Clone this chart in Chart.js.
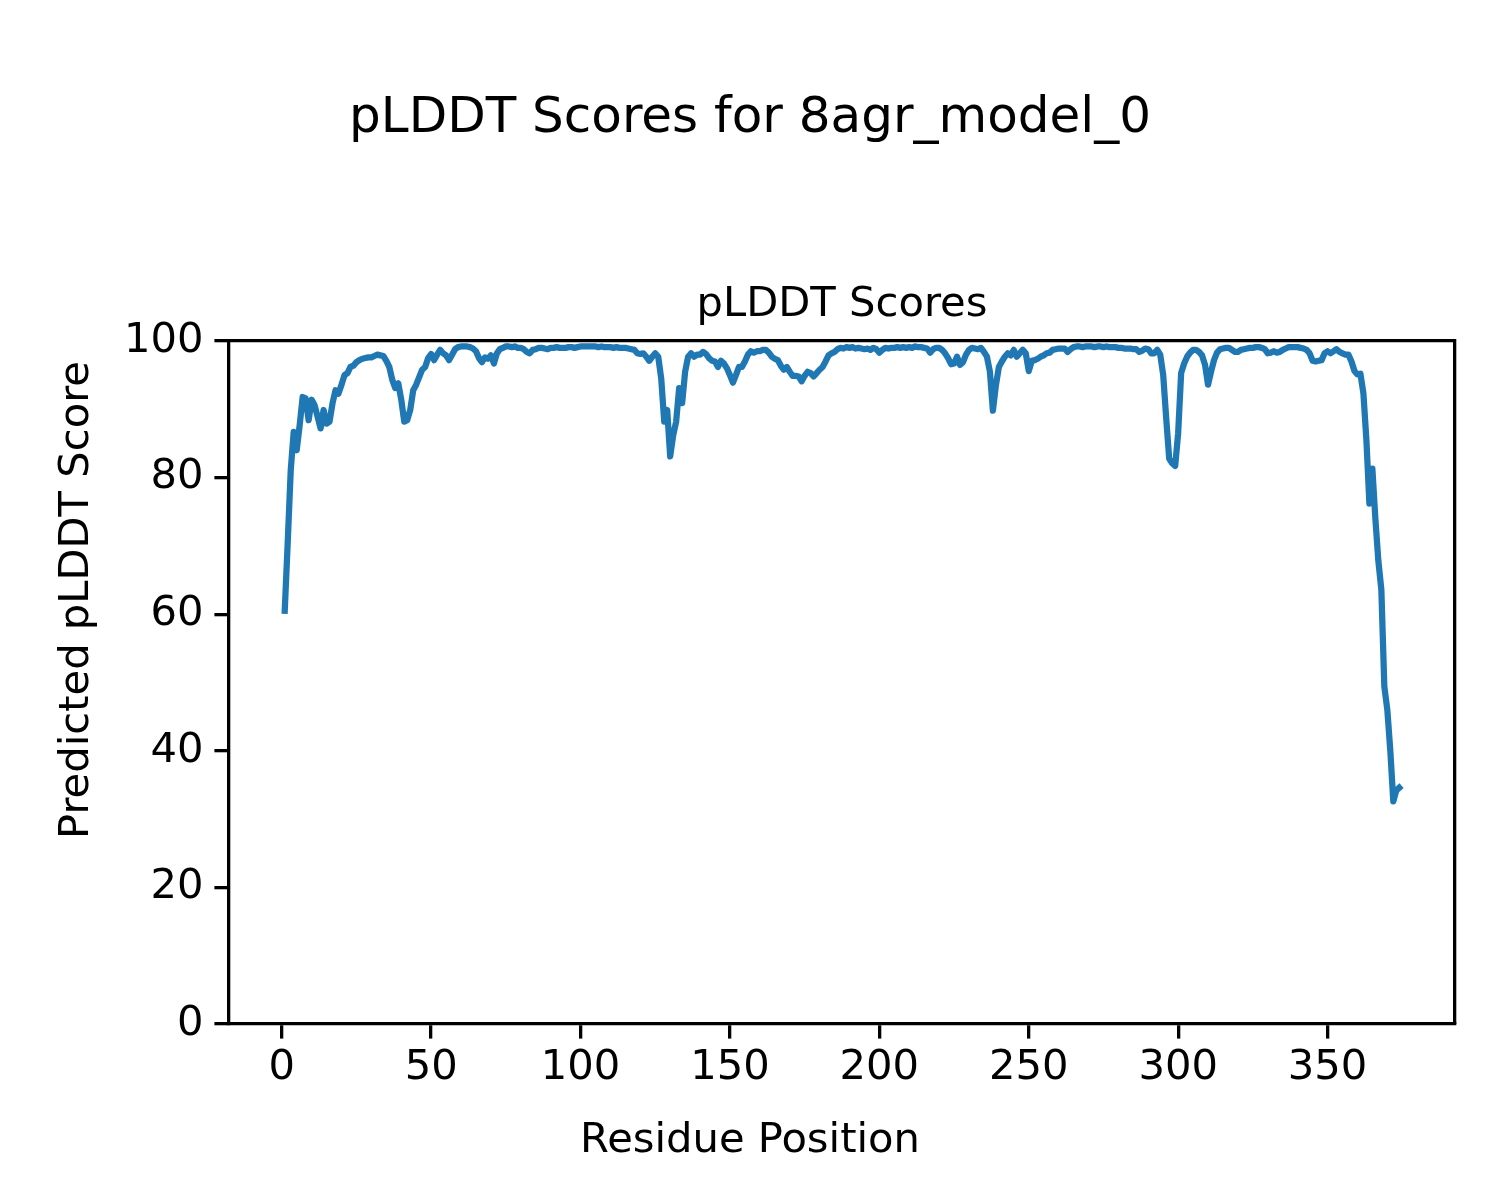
<!DOCTYPE html>
<html>
<head>
<meta charset="utf-8">
<script src="https://cdn.jsdelivr.net/npm/chart.js@4"></script>
<style>
html, body { margin: 0; padding: 0; background: #ffffff; }
canvas { display: block; }
</style>
</head>
<body>
<canvas id="c" width="1500" height="1200"></canvas>
<script>
const figureTitle = 'pLDDT Scores for 8agr_model_0';
const axesTitle = 'pLDDT Scores';
const xLabel = 'Residue Position';
const yLabel = 'Predicted pLDDT Score';

const plddtScores = [
  60.5, 70.5, 81.0, 86.7, 84.0, 87.7, 91.8, 91.6, 88.4, 91.4,
  90.6, 88.9, 87.2, 89.9, 87.9, 88.2, 90.9, 92.8, 92.3, 93.6,
  95.0, 95.3, 96.2, 96.4, 96.9, 97.2, 97.4, 97.5, 97.6, 97.6,
  97.8, 98.0, 97.9, 97.8, 97.1, 96.2, 94.3, 93.1, 93.8, 91.4,
  88.2, 88.4, 89.9, 92.8, 93.6, 94.7, 95.8, 96.2, 97.5, 98.1,
  97.2, 98.0, 98.7, 98.2, 97.9, 97.2, 98.0, 98.8, 99.1, 99.2,
  99.2, 99.2, 99.1, 98.9, 98.5, 97.5, 96.9, 97.6, 97.4, 97.9,
  96.7, 98.2, 98.8, 99.0, 99.2, 99.2, 99.1, 99.2, 99.0, 99.0,
  98.8, 98.4, 98.2, 98.7, 98.8, 99.0, 99.0, 98.9, 98.8, 99.0,
  99.0, 99.1, 99.0, 99.0, 99.0, 99.1, 99.1, 99.0, 99.1, 99.2,
  99.2, 99.2, 99.2, 99.2, 99.2, 99.1, 99.2, 99.1, 99.1, 99.1,
  99.0, 99.1, 99.0, 99.0, 99.0, 98.9, 98.8, 98.7, 98.2, 98.1,
  98.2, 97.7, 97.1, 97.7, 98.2, 97.7, 94.5, 88.2, 89.9, 83.1,
  86.2, 88.2, 93.1, 90.9, 95.5, 97.7, 98.2, 97.7, 98.0, 98.0,
  98.4, 98.1, 97.5, 97.1, 97.0, 96.2, 97.1, 96.7, 96.0, 95.0,
  93.9, 95.0, 96.2, 96.2, 97.0, 98.0, 98.5, 98.3, 98.5, 98.5,
  98.7, 98.7, 98.3, 97.7, 97.4, 97.2, 96.4, 95.8, 96.2, 95.5,
  94.9, 94.9, 94.8, 94.1, 94.9, 95.5, 95.3, 94.8, 95.3, 95.8,
  96.2, 97.0, 97.9, 98.2, 98.4, 98.8, 99.0, 98.9, 99.1, 99.0,
  99.1, 98.9, 99.0, 98.9, 98.8, 98.9, 98.7, 99.0, 98.8, 98.3,
  98.7, 99.0, 98.9, 99.0, 99.0, 99.1, 99.0, 99.1, 99.0, 99.1,
  99.0, 99.2, 99.1, 99.1, 99.0, 98.9, 98.3, 98.8, 99.0, 99.0,
  98.7, 98.2, 97.5, 96.6, 96.7, 97.7, 96.5, 96.9, 98.0, 98.7,
  99.0, 98.9, 98.8, 99.0, 98.4, 97.7, 95.5, 89.8, 93.5, 96.2,
  97.0, 97.7, 98.2, 97.9, 98.7, 97.7, 98.2, 98.7, 98.2, 95.6,
  97.1, 97.2, 97.4, 97.7, 97.9, 98.2, 98.3, 98.7, 98.8, 98.9,
  98.9, 98.9, 98.4, 98.8, 99.1, 99.2, 99.2, 99.1, 99.2, 99.2,
  99.2, 99.1, 99.2, 99.2, 99.1, 99.2, 99.1, 99.1, 99.1, 99.0,
  99.0, 98.9, 98.9, 98.9, 98.8, 98.8, 98.4, 98.6, 98.9, 98.8,
  98.2, 98.2, 98.7, 98.0, 95.0, 88.7, 82.8, 82.1, 81.7, 86.5,
  95.3, 96.7, 97.7, 98.3, 98.7, 98.7, 98.4, 97.9, 96.5, 93.6,
  95.5, 97.2, 98.3, 98.8, 98.9, 99.0, 99.0, 98.7, 98.4, 98.4,
  98.7, 98.8, 98.9, 99.0, 99.0, 99.1, 99.1, 99.0, 98.8, 98.2,
  98.3, 98.5, 98.3, 98.4, 98.7, 98.9, 99.1, 99.1, 99.1, 99.1,
  99.0, 98.9, 98.7, 98.2, 97.1, 97.0, 97.1, 97.2, 98.2, 98.5,
  98.2, 98.5, 98.8, 98.4, 98.2, 98.0, 98.0, 97.0, 95.6, 95.1,
  95.2, 92.3, 85.5, 76.2, 81.3, 74.0, 67.8, 63.6, 49.4, 46.0,
  40.0, 32.6, 34.2, 34.6
];
const residuePositions = plddtScores.map((_, i) => i + 1);
const xTickValues = [0, 50, 100, 150, 200, 250, 300, 350];
const yTickValues = [0, 20, 40, 60, 80, 100];

const FONT = 'DejaVu Sans';
const FS = 41.67;
const FS_BIG = 50;
const BLACK = '#000000';
const LINE_COLOR = '#1f77b4';

// Extra full-size layout box (like the title plugin) used for the figure-level y label
const ylabelPlugin = {
  id: 'ylabel',
  start(chart, _args, options) {
    const TitleEl = Chart.Title && Chart.Title._element;
    if (!TitleEl) { chart.$ylabelFallback = true; return; }
    const box = new TitleEl({ctx: chart.ctx, options, chart});
    Chart.layouts.configure(chart, box, options);
    Chart.layouts.addBox(chart, box);
    chart.$ylabelBox = box;
  },
  stop(chart) {
    if (chart.$ylabelBox) { Chart.layouts.removeBox(chart, chart.$ylabelBox); delete chart.$ylabelBox; }
  },
  beforeUpdate(chart, _args, options) {
    const box = chart.$ylabelBox;
    if (!box) return;
    Chart.layouts.configure(chart, box, options);
    box.options = options;
  },
  afterDraw(chart, _args, options) {
    if (!chart.$ylabelFallback) return;
    const ctx = chart.ctx;
    ctx.save();
    ctx.translate(77.5, chart.height / 2);
    ctx.rotate(-Math.PI / 2);
    ctx.font = FS + 'px "' + FONT + '"';
    ctx.fillStyle = BLACK;
    ctx.textAlign = 'center';
    ctx.textBaseline = 'middle';
    ctx.fillText(options.text, 0, 0);
    ctx.restore();
  },
  defaults: {
    align: 'center', display: true, font: {weight: 'normal'}, fullSize: true,
    padding: 0, position: 'left', text: '', weight: 1000, color: '#000000'
  }
};

const axisGrid = {
  display: true, drawOnChartArea: false, drawTicks: true,
  tickLength: 14.6, lineWidth: 3.3, tickWidth: 3.3, color: BLACK, tickColor: BLACK
};
const axisBorder = {display: true, color: BLACK, width: 3.3};

new Chart(document.getElementById('c'), {
  type: 'line',
  data: {
    datasets: [{
      label: 'pLDDT',
      data: residuePositions.map((x, i) => ({x: x, y: plddtScores[i]})),
      borderColor: LINE_COLOR,
      backgroundColor: LINE_COLOR,
      borderWidth: 6.25,
      pointRadius: 0,
      pointHoverRadius: 0,
      tension: 0,
      fill: false,
      borderCapStyle: 'square',
      borderJoinStyle: 'round',
      xAxisID: 'x',
      yAxisID: 'y'
    }]
  },
  options: {
    responsive: false,
    animation: false,
    devicePixelRatio: 1,
    events: [],
    layout: {padding: {top: 0, left: 0, right: 0, bottom: 0}},
    font: {family: FONT},
    color: BLACK,
    plugins: {
      legend: {display: false},
      tooltip: {enabled: false},
      title: {
        display: true, text: figureTitle, color: BLACK,
        font: {family: FONT, size: FS_BIG, weight: 'normal'},
        padding: {top: 89, bottom: 0}
      },
      subtitle: {
        display: true, position: 'bottom', text: xLabel, color: BLACK,
        font: {family: FONT, size: FS, weight: 'normal'},
        padding: {top: 0, bottom: 34}
      },
      ylabel: {
        display: true, position: 'left', text: yLabel, color: BLACK,
        font: {family: FONT, size: FS, weight: 'normal'},
        padding: {top: 52.5, bottom: 0}, fullSize: true, weight: 1000
      }
    },
    scales: {
      x: {
        type: 'linear', position: 'bottom', min: -17.65, max: 392.65,
        afterBuildTicks: (s) => { s.ticks = xTickValues.map(v => ({value: v})); },
        afterFit: (s) => { s.height = 92; },
        ticks: {font: {family: FONT, size: FS}, color: BLACK, padding: 5, maxRotation: 0, autoSkip: false},
        grid: axisGrid,
        border: axisBorder
      },
      y: {
        type: 'linear', position: 'left', min: 0, max: 100,
        afterBuildTicks: (s) => { s.ticks = yTickValues.map(v => ({value: v})); },
        afterFit: (s) => { s.width = 126.5; },
        ticks: {font: {family: FONT, size: FS}, color: BLACK, padding: 11, autoSkip: false},
        grid: axisGrid,
        border: axisBorder
      },
      x2: {
        type: 'linear', position: 'top', min: 0, max: 1, display: true,
        afterFit: (s) => { s.height = 192; },
        ticks: {display: false},
        grid: {display: false},
        border: axisBorder,
        title: {
          display: true, text: axesTitle, color: BLACK,
          font: {family: FONT, size: FS, weight: 'normal'},
          padding: {top: 131, bottom: 0}
        }
      },
      y2: {
        type: 'linear', position: 'right', min: 0, max: 1, display: true,
        afterFit: (s) => { s.width = 45; },
        ticks: {display: false},
        grid: {display: false},
        border: axisBorder
      }
    }
  },
  plugins: [ylabelPlugin]
});
</script>
</body>
</html>
